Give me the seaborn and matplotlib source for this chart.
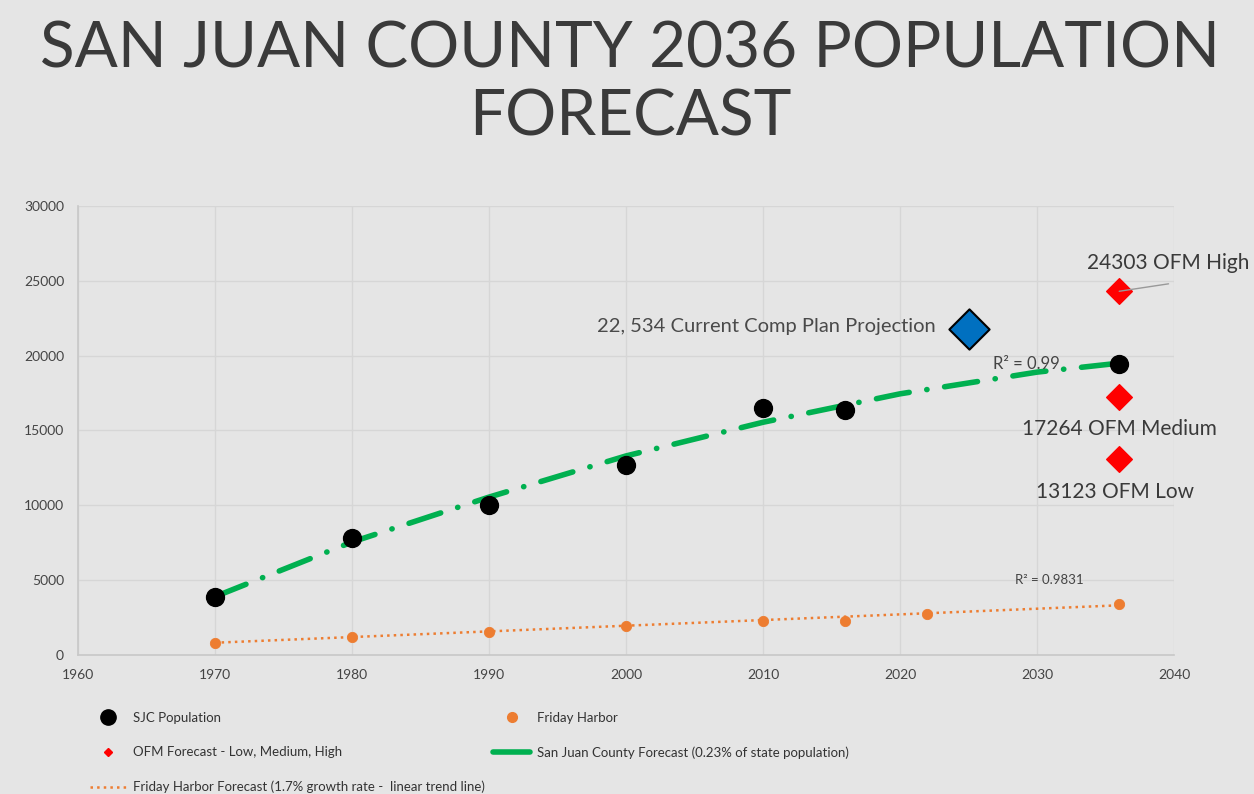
import matplotlib
matplotlib.use("Agg")
import matplotlib.pyplot as plt
import seaborn as sns
import pandas as pd
from matplotlib.lines import Line2D

# ---- data ----
sjc_years = [1970, 1980, 1990, 2000, 2010, 2016, 2036]
sjc_pop = [3900, 7850, 10050, 12700, 16500, 16350, 19450]

fh_years = [1970, 1980, 1990, 2000, 2010, 2016, 2022, 2036]
fh_pop = [800, 1200, 1550, 1950, 2300, 2300, 2750, 3400]

sjc_fc_years = [1970, 1980, 1990, 2000, 2010, 2020, 2030, 2036]
sjc_fc_vals = [3900, 7550, 10550, 13300, 15550, 17450, 18900, 19500]

fh_trend_years = [1970, 2036]
fh_trend_vals = [820, 3320]

ofm_years = [2036, 2036, 2036]
ofm_vals = [13123, 17264, 24303]
ofm_labels = ["13123 OFM Low", "17264 OFM Medium", "24303 OFM High"]

comp_year = [2025]
comp_val = [21800]

sns.set_theme(style="whitegrid")
plt.rcParams['font.family'] = ['Lato', 'DejaVu Sans']

bg = "#e5e5e5"
fig = plt.figure(figsize=(12.54, 7.94), dpi=100, facecolor=bg)
ax = fig.add_axes([78/1254, 1 - 655/794, (1174-78)/1254, (655-206)/794])
ax.set_facecolor(bg)

sjc_df = pd.DataFrame({"year": sjc_years, "pop": sjc_pop})
fh_df = pd.DataFrame({"year": fh_years, "pop": fh_pop})
sfc_df = pd.DataFrame({"year": sjc_fc_years, "pop": sjc_fc_vals})
fht_df = pd.DataFrame({"year": fh_trend_years, "pop": fh_trend_vals})
ofm_df = pd.DataFrame({"year": ofm_years, "pop": ofm_vals})
comp_df = pd.DataFrame({"year": comp_year, "pop": comp_val})

green = "#00b050"
orange = "#ed7d31"

sns.lineplot(data=sfc_df, x="year", y="pop", ax=ax, color=green, lw=4,
             dashes=False, zorder=3)
ax.lines[-1].set_dashes([6, 3.2, 0.05, 3.2])
ax.lines[-1].set_dash_capstyle("round")
sns.lineplot(data=fht_df, x="year", y="pop", ax=ax, color=orange, lw=1.8, zorder=3)
ax.lines[-1].set_linestyle(":")
sns.scatterplot(data=sjc_df, x="year", y="pop", ax=ax, color="black", s=165,
                edgecolor="black", zorder=4)
sns.scatterplot(data=fh_df, x="year", y="pop", ax=ax, color=orange, s=55,
                edgecolor=orange, zorder=4)
sns.scatterplot(data=ofm_df, x="year", y="pop", ax=ax, color="#ff0000", marker="D",
                s=170, edgecolor="#ff0000", zorder=5)
sns.scatterplot(data=comp_df, x="year", y="pop", ax=ax, color="#0070c0", marker="D",
                s=420, edgecolor="black", linewidth=1.5, zorder=5)

ax.set_xlim(1960, 2040)
ax.set_ylim(0, 30000)
ax.set_xticks(range(1960, 2041, 10))
ax.set_yticks(range(0, 30001, 5000))
ax.set_xlabel("")
ax.set_ylabel("")
ax.grid(True, color="#d6d6d6", lw=1)
for s in ["top", "right"]:
    ax.spines[s].set_visible(False)
for s in ["left", "bottom"]:
    ax.spines[s].set_color("#c8c8c8")
    ax.spines[s].set_linewidth(1.2)
ax.tick_params(axis="both", colors="#555555", labelsize=10, length=0, pad=10)
for lbl in ax.get_xticklabels() + ax.get_yticklabels():
    lbl.set_color("#444444")

txtc = "#3a3a3a"
# OFM labels
ax.text(2039.6, 26200, ofm_labels[2], ha="center", va="center", fontsize=15, color=txtc)
ax.annotate("", xy=(ofm_years[2], ofm_vals[2]), xytext=(2039.6, 24800),
            arrowprops=dict(arrowstyle="-", color="#999999", lw=1, shrinkA=0, shrinkB=0),
            zorder=6)
ax.annotate(ofm_labels[1], xy=(ofm_years[1], ofm_vals[1]), xytext=(2036, 15100),
            ha="center", va="center", fontsize=15, color=txtc,
            arrowprops=dict(arrowstyle="-", color="#999999", lw=1, shrinkA=8, shrinkB=0))
ax.text(2035.7, 10900, ofm_labels[0], ha="center", va="center", fontsize=15, color=txtc)
ax.text(2022.6, 21950, "22, 534 Current Comp Plan Projection", ha="right", va="center",
        fontsize=14.5, color="#4a4a4a")
ax.text(2029.2, 19450, "R² = 0.99", ha="center", va="center", fontsize=12, color="#444444")
ax.text(2030.9, 5000, "R² = 0.9831", ha="center", va="center", fontsize=9.5, color="#444444")

# title
fig.text(630/1254, 1 - 50/794, "SAN JUAN COUNTY 2036 POPULATION", ha="center", va="center",
         fontsize=46, color="#3a3a3a", fontweight="normal")
fig.text(630/1254, 1 - 117/794, "FORECAST", ha="center", va="center",
         fontsize=46, color="#3a3a3a", fontweight="normal")

# legend
handles = [
    Line2D([], [], marker="o", color="black", ls="none", markersize=11),
    Line2D([], [], marker="D", color="#ff0000", ls="none", markersize=4),
    Line2D([], [], color=orange, ls=":", lw=1.8),
    Line2D([], [], marker="o", color=orange, ls="none", markersize=7),
    Line2D([], [], color=green, lw=4),
]
labels = [
    "SJC Population",
    "OFM Forecast - Low, Medium, High",
    "Friday Harbor Forecast (1.7% growth rate -  linear trend line)",
    "Friday Harbor",
    "San Juan County Forecast (0.23% of state population)",
]
leg = fig.legend(handles, labels, ncol=2, loc="upper left",
                 bbox_to_anchor=(78/1254, 1 - 700/794), frameon=False,
                 fontsize=9.5, labelcolor="#333333", columnspacing=0.6,
                 handlelength=2.8, handletextpad=0.5, labelspacing=1.7)

fig.savefig("out.png", dpi=100, facecolor=bg)
